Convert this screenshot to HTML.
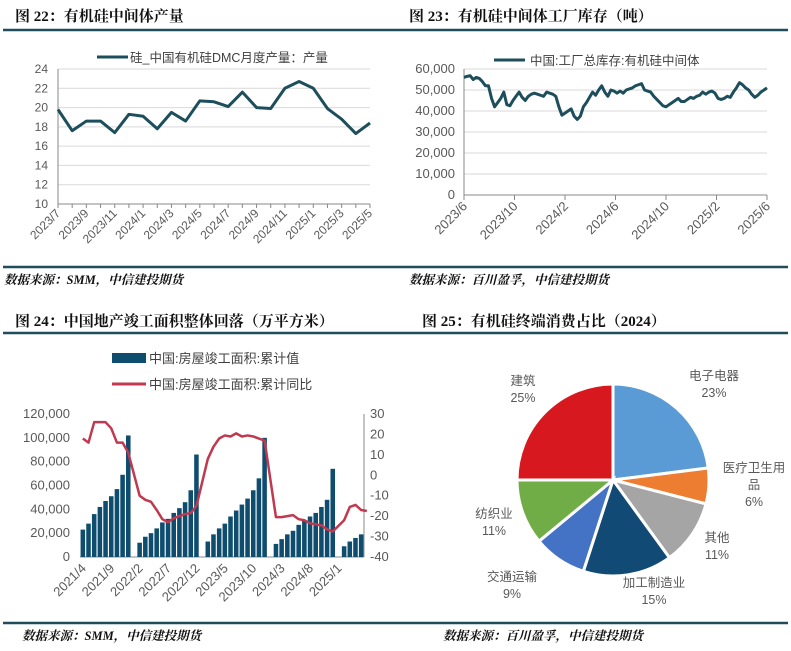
<!DOCTYPE html>
<html><head><meta charset="utf-8">
<style>
html,body{margin:0;padding:0;background:#fff;}
svg{display:block;font-family:"Liberation Sans","Noto Sans CJK SC",sans-serif;}
.ttl{font-family:"Liberation Serif","Noto Serif CJK SC","Noto Sans CJK SC",serif;font-weight:bold;font-size:15px;fill:#111;}
.src{font-family:"Liberation Serif","Noto Serif CJK SC","Noto Sans CJK SC",serif;font-weight:bold;font-style:italic;font-size:12.5px;fill:#111;}
.tk{font-size:12px;fill:#595959;}
.lg{font-size:12.5px;fill:#404040;}
</style></head>
<body>
<svg id="s" width="791" height="651" viewBox="0 0 791 651">
<rect width="791" height="651" fill="#fff"/>
<line x1="3" y1="30" x2="788" y2="30" stroke="#1f4e5a" stroke-width="2.5"/>
<line x1="3" y1="267" x2="788" y2="267" stroke="#1f4e5a" stroke-width="2.5"/>
<line x1="3" y1="333" x2="788" y2="333" stroke="#1f4e5a" stroke-width="2.5"/>
<line x1="3" y1="623" x2="788" y2="623" stroke="#1f4e5a" stroke-width="2.5"/>
<text class="ttl" x="15" y="21">图 22：有机硅中间体产量</text>
<text class="ttl" x="409" y="21">图 23：有机硅中间体工厂库存（吨）</text>
<text class="ttl" x="15" y="326">图 24：中国地产竣工面积整体回落（万平方米）</text>
<text class="ttl" x="422" y="326">图 25：有机硅终端消费占比（2024）</text>
<text class="src" x="4" y="284">数据来源：SMM，中信建投期货</text>
<text class="src" x="409" y="284">数据来源：百川盈孚，中信建投期货</text>
<text class="src" x="22" y="640">数据来源：SMM，中信建投期货</text>
<text class="src" x="443" y="640">数据来源：百川盈孚，中信建投期货</text>
<g id="g1"></g>
<g id="g2"></g>
<g id="g3"></g>
<g id="g4"></g>
</svg>
<script>
// Chart 1 data
const c1Cats = ["2023/7","2023/8","2023/9","2023/10","2023/11","2023/12","2024/1","2024/2","2024/3","2024/4","2024/5","2024/6","2024/7","2024/8","2024/9","2024/10","2024/11","2024/12","2025/1","2025/2","2025/3","2025/4","2025/5"];
const c1Vals = [19.8,17.6,18.6,18.6,17.4,19.3,19.1,17.8,19.5,18.6,20.7,20.6,20.1,21.6,20.0,19.9,22.0,22.7,22.0,19.9,18.8,17.3,18.4];
const c1Ticks = [10,12,14,16,18,20,22,24];
// Chart 2 data (weekly, 2023/6 .. 2025/6)
const c2Vals = [56000,56500,56800,55000,56000,55500,54000,52000,52000,46000,42000,44000,46000,49000,43000,42500,45000,47000,49000,46500,45000,47000,48000,48500,48000,47500,47000,49000,48500,48000,47000,42000,38000,39000,40000,41000,37500,36000,37500,42000,44000,46500,49000,47500,50000,52000,49000,47000,50000,49500,48500,49500,48500,50000,50500,51000,52000,52500,53000,50000,49500,49000,47000,45500,44000,42500,42000,43000,44000,45000,46000,44500,44500,45500,46500,46000,47000,47500,49000,48000,49000,49500,48500,46000,45500,46000,47000,46500,49000,51000,53500,52500,51000,50000,48000,46500,47500,49000,50000,51000];
const c2Ticks = [0,10000,20000,30000,40000,50000,60000];
const c2Labels = ["2023/6","2023/10","2024/2","2024/6","2024/10","2025/2","2025/6"];
// Chart 3 data (monthly 2021/4 .. 2025/5, null = no January value)
const c3Bars = [23000,28000,36000,42000,47000,51000,57000,69000,102000,
 null,12000,17000,20000,24000,29000,32000,37000,41000,46000,56000,86000,
 null,13000,19000,24000,28000,34000,39000,44000,49000,56000,66000,100000,
 null,11000,15000,19000,22000,27000,31000,34000,37000,42000,48000,74000,
 null,9000,13000,16000,19000];
const c3Yoy = [18,16,26,26,26,23,16,16,11,
 null,-10,-12,-13,-17,-21.5,-23,-21,-20,-19,-18.5,-15,
 null,8,14,18,19.5,19,20.5,19,19.5,19,18,17,
 null,-20.5,-20.5,-20,-19.5,-21.5,-22,-23.5,-24,-24.5,-26.5,-27.5,
 null,-22,-15.5,-14.5,-17,-17.5];
const c3LTicks = [0,20000,40000,60000,80000,100000,120000];
const c3RTicks = [-40,-30,-20,-10,0,10,20,30];
const c3Labels = ["2021/4","2021/9","2022/2","2022/7","2022/12","2023/5","2023/10","2024/3","2024/8","2025/1"];
// Chart 4 data
const c4Names = ["电子电器","医疗卫生用品","其他","加工制造业","交通运输","纺织业","建筑"];
const c4Vals = [23,6,11,15,9,11,25];
const c4Colors = ["#5b9bd5","#ed7d31","#a5a5a5","#114a74","#4472c4","#70ad47","#d7191f"];

const NS="http://www.w3.org/2000/svg";
function mk(p,tag,at,txt){const e=document.createElementNS(NS,tag);for(const k in at)e.setAttribute(k,at[k]);if(txt!==undefined)e.textContent=txt;p.appendChild(e);return e;}
const fmt=v=>v.toLocaleString("en-US");

// ---- Chart 1
(function(){
 const g=document.getElementById("g1");
 const x0=58,x1=370,yT=69,yB=204;
 const sx=i=>x0+i*(x1-x0)/(c1Vals.length-1);
 const sy=v=>yB-(v-10)/(24-10)*(yB-yT);
 c1Ticks.forEach(t=>{
  const l=mk(g,"line",{x1:x0,x2:x1,y1:sy(t),y2:sy(t),stroke:t===10?"#888":"#d9d9d9","stroke-width":1});
  
  
  const tx=mk(g,"text",{x:48,y:sy(t)+4,"text-anchor":"end",class:"tk"},t);
  
  
 });
 mk(g,"line",{x1:x0,x2:x0,y1:yT,y2:yB,stroke:"#888"});
 c1Cats.forEach((c,i)=>{
  mk(g,"line",{x1:sx(i),x2:sx(i),y1:yB,y2:yB+4,stroke:"#888"});
  if(i%2===0){
   const tx=mk(g,"text",{x:sx(i)+3,y:yB+10,"text-anchor":"end",class:"tk",transform:`rotate(-45 ${sx(i)+3} ${yB+10})`},c);
   
   
  }
 });
 const p=mk(g,"polyline",{points:c1Vals.map((v,i)=>sx(i)+","+sy(v)).join(" "),fill:"none",stroke:"#1d4e5c","stroke-width":3,"stroke-linejoin":"round"});
 
 
 const ll=mk(g,"line",{x1:97,x2:128,y1:57,y2:57,stroke:"#1d4e5c","stroke-width":3});
 
 
 const lt=mk(g,"text",{x:130,y:62,class:"lg"},"硅_中国有机硅DMC月度产量：产量");
 
 
})();

// ---- Chart 2
(function(){
 const g=document.getElementById("g2");
 const x0=464,x1=767,yT=69,yB=195;
 const sx=i=>x0+i*(x1-x0)/(c2Vals.length-1);
 const sy=v=>yB-v/60000*(yB-yT);
 c2Ticks.forEach(t=>{
  const l=mk(g,"line",{x1:x0,x2:x1,y1:sy(t),y2:sy(t),stroke:t===0?"#888":"#d9d9d9"});
  
  
  const tx=mk(g,"text",{x:455,y:sy(t)+4,"text-anchor":"end",class:"tk",style:"font-size:13px"},fmt(t));
  
  
 });
 mk(g,"line",{x1:x0,x2:x0,y1:yT,y2:yB,stroke:"#888"});
 c2Labels.forEach((c,i)=>{
  const x=x0+i*(x1-x0)/(c2Labels.length-1);
  mk(g,"line",{x1:x,x2:x,y1:yB,y2:yB+5,stroke:"#888"});
  const tx=mk(g,"text",{x:x+4,y:yB+12,"text-anchor":"end",class:"tk",style:"font-size:13px",transform:`rotate(-45 ${x+4} ${yB+12})`},c);
  
  
 });
 const p=mk(g,"polyline",{points:c2Vals.map((v,i)=>sx(i)+","+sy(v)).join(" "),fill:"none",stroke:"#1d4e5c","stroke-width":3,"stroke-linejoin":"round"});
 
 
 const ll=mk(g,"line",{x1:494,x2:525,y1:60,y2:60,stroke:"#1d4e5c","stroke-width":3});
 
 
 const lt=mk(g,"text",{x:530,y:65,class:"lg"},"中国:工厂总库存:有机硅中间体");
 
 
})();

// ---- Chart 3
(function(){
 const g=document.getElementById("g3");
 const x0=80,x1=364,yT=414,yB=557,n=c3Bars.length;
 const bw=(x1-x0)/n;
 const cx=i=>x0+(i+0.5)*bw;
 const syl=v=>yB-v/120000*(yB-yT);
 const syr=v=>yB-(v+40)/70*(yB-yT);
 c3LTicks.forEach(t=>{
  const tx=mk(g,"text",{x:70,y:syl(t)+4,"text-anchor":"end",class:"tk",style:"font-size:13px"},fmt(t));
  
  
 });
 c3RTicks.forEach(t=>{
  const tx=mk(g,"text",{x:370,y:syr(t)+4,class:"tk",style:"font-size:13px"},t);
  
  
 });
 mk(g,"line",{x1:x0,x2:x1,y1:yB,y2:yB,stroke:"#888"});
 mk(g,"line",{x1:x1,x2:x1,y1:yT,y2:yB,stroke:"#888"});
 c3Bars.forEach((v,i)=>{
  if(v===null)return;
  const r=mk(g,"rect",{x:cx(i)-bw*0.4,y:syl(v),width:bw*0.8,height:yB-syl(v),fill:"#0e4d6e"});
  
  
 });
 c3Labels.forEach((c,k)=>{
  const i=k*5,x=cx(i);
  const tx=mk(g,"text",{x:x+4,y:yB+12,"text-anchor":"end",class:"tk",style:"font-size:13px",transform:`rotate(-45 ${x+4} ${yB+12})`},c);
  
  
 });
 const pts=[];c3Yoy.forEach((v,i)=>{if(v!==null)pts.push(cx(i)+","+syr(v));});
 const p=mk(g,"polyline",{points:pts.join(" "),fill:"none",stroke:"#c0394f","stroke-width":2.5,"stroke-linejoin":"round"});
 
 
 const lb=mk(g,"rect",{x:112,y:353,width:34,height:10,fill:"#0e4d6e"});
 
 
 const t1=mk(g,"text",{x:149,y:363,class:"lg",style:"font-size:13px"},"中国:房屋竣工面积:累计值");
 
 
 const ll=mk(g,"line",{x1:112,x2:146,y1:384,y2:384,stroke:"#c0394f","stroke-width":3});
 
 
 const t2=mk(g,"text",{x:149,y:389,class:"lg",style:"font-size:13px"},"中国:房屋竣工面积:累计同比");
 
 
})();

// ---- Chart 4
(function(){
 const g=document.getElementById("g4");
 const cx=613,cy=480,r=96;
 const total=c4Vals.reduce((a,b)=>a+b,0);
 let a=-Math.PI/2;
 c4Vals.forEach((v,i)=>{
  const a2=a+v/total*2*Math.PI;
  const big=a2-a>Math.PI?1:0;
  const d=`M${cx},${cy} L${cx+r*Math.cos(a)},${cy+r*Math.sin(a)} A${r},${r} 0 ${big} 1 ${cx+r*Math.cos(a2)},${cy+r*Math.sin(a2)} Z`;
  const s=mk(g,"path",{d:d,fill:c4Colors[i],stroke:"#fff","stroke-width":3});
  
  
  a=a2;
 });
 const labs=[[714,380,["电子电器"]],[754,472,["医疗卫生用","品"]],[717,542,["其他"]],[654,587,["加工制造业"]],[512,581,["交通运输"]],[494,518,["纺织业"]],[523,385,["建筑"]]];
 labs.forEach((L,i)=>{
  const lines=L[2].concat([c4Vals[i]+"%"]);
  lines.forEach((s,k)=>{
   const t=mk(g,"text",{x:L[0],y:L[1]+k*17,"text-anchor":"middle",class:"tk",style:"font-size:12.5px"},s);
   
   
  });
 });
})();
</script>
</body></html>
